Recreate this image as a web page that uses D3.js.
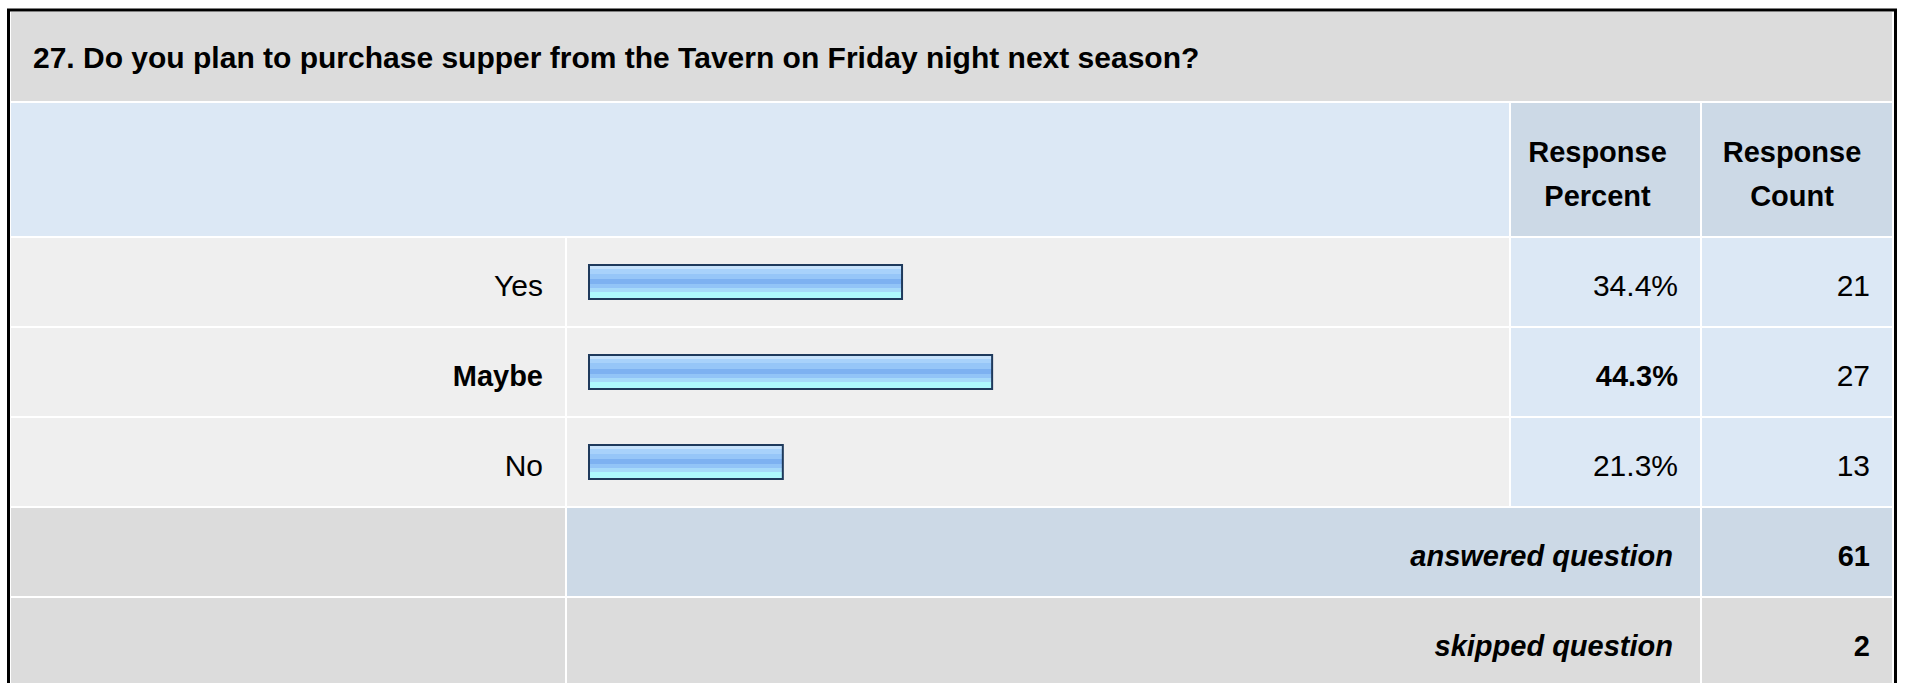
<!DOCTYPE html>
<html>
<head>
<meta charset="utf-8">
<script src="https://cdn.jsdelivr.net/npm/d3@7"></script>
<style>
  body { margin: 0; background: #fff; }
  text { font-family: "Liberation Sans", Arial, sans-serif; font-size: 29px; fill: #000; }
  text.reg { font-size: 30px; }
</style>
</head>
<body>
<div id="vis"></div>
<script>

var title = "27. Do you plan to purchase supper from the Tavern on Friday night next season?";
var answers = ["Yes", "Maybe", "No"];
var percents = [34.4, 44.3, 21.3];
var counts = [21, 27, 13];
var headerPercent = ["Response", "Percent"];
var headerCount = ["Response", "Count"];
var summaryLabels = ["answered question", "skipped question"];
var summaryValues = [61, 2];

var width = 1907, height = 683;

// column edges of the table (label | bar | percent | count)
var colEdges = [10, 566, 1510, 1701, 1893];

var svg = d3.select('#vis').append('svg')
  .attr('width', width)
  .attr('height', height);

var defs = svg.append('defs');
var grad = defs.append('linearGradient')
  .attr('id', 'barGrad')
  .attr('x1', 0).attr('y1', 0).attr('x2', 0).attr('y2', 1);

// banded gradient, like the old gif bars
var bands = [
  [0, '#c6e2fc'], [0.12, '#c6e2fc'], [0.12, '#a8d2fb'], [0.25, '#a8d2fb'],
  [0.25, '#96c6f8'], [0.40, '#96c6f8'], [0.40, '#7db1f1'], [0.55, '#7db1f1'],
  [0.55, '#92c4f7'], [0.68, '#92c4f7'], [0.68, '#a6dafa'], [0.80, '#a6dafa'],
  [0.80, '#aef8fd'], [1, '#aef8fd']
];
grad.selectAll('stop').data(bands).enter().append('stop')
  .attr('offset', function (d) { return d[0]; })
  .attr('stop-color', function (d) { return d[1]; });

// outer frame
svg.append('rect')
  .attr('x', 8.5).attr('y', 10)
  .attr('width', 1887).attr('height', 700)
  .attr('fill', '#fff')
  .attr('stroke', '#000')
  .attr('stroke-width', 3);

function cell(c0, c1, y0, y1, fill) {
  svg.append('rect')
    .attr('x', colEdges[c0] + 1)
    .attr('y', y0)
    .attr('width', colEdges[c1] - colEdges[c0] - 2)
    .attr('height', y1 - y0)
    .attr('fill', fill);
}

// title row
cell(0, 4, 12, 101, '#dcdcdc');
svg.append('text')
  .attr('x', 33).attr('y', 68)
  .style('font-weight', 'bold')
  .style('font-size', '30px')
  .text(title);

// header row
cell(0, 2, 103, 236, '#dce8f5');
cell(2, 3, 103, 236, '#ccd9e6');
cell(3, 4, 103, 236, '#ccd9e6');

function headerText(col, lines, shift) {
  var cx = (colEdges[col] + colEdges[col + 1]) / 2 + shift;
  svg.append('text')
    .attr('text-anchor', 'middle')
    .style('font-weight', 'bold')
    .selectAll('tspan').data(lines).enter().append('tspan')
    .attr('x', cx)
    .attr('y', function (d, i) { return 162 + i * 44; })
    .text(function (d) { return d; });
}
headerText(2, headerPercent, -8);
headerText(3, headerCount, -5);

// answer rows
var y = d3.scaleBand()
  .domain(answers)
  .range([237, 507]);

var x = d3.scaleLinear()
  .domain([0, 100])
  .range([589, 1499]);

var maxPct = d3.max(percents);

var rows = svg.selectAll('.row')
  .data(answers)
  .enter().append('g')
  .attr('class', 'row')
  .attr('transform', function (d) { return 'translate(0,' + y(d) + ')'; });

var rh = y.bandwidth();

rows.each(function (d, i) {
  var g = d3.select(this);
  var isMax = percents[i] === maxPct;
  [[0, 1, '#efefef'], [1, 2, '#efefef'], [2, 3, '#dce8f5'], [3, 4, '#dce8f5']].forEach(function (c) {
    g.append('rect')
      .attr('x', colEdges[c[0]] + 1)
      .attr('y', 1)
      .attr('width', colEdges[c[1]] - colEdges[c[0]] - 2)
      .attr('height', rh - 2)
      .attr('fill', c[2]);
  });

  g.append('text')
    .attr('class', isMax ? null : 'reg')
    .attr('x', colEdges[1] - 23)
    .attr('y', rh / 2 + 14)
    .attr('text-anchor', 'end')
    .style('font-weight', isMax ? 'bold' : 'normal')
    .text(d);

  g.append('rect')
    .attr('x', x(0))
    .attr('y', rh / 2 - 17)
    .attr('width', x(percents[i]) - x(0))
    .attr('height', 34)
    .attr('fill', 'url(#barGrad)')
    .attr('stroke', '#1f3a5c')
    .attr('stroke-width', 2);

  g.append('text')
    .attr('class', isMax ? null : 'reg')
    .attr('x', colEdges[3] - 23)
    .attr('y', rh / 2 + 14)
    .attr('text-anchor', 'end')
    .style('font-weight', isMax ? 'bold' : 'normal')
    .text(percents[i].toFixed(1) + '%');

  g.append('text')
    .attr('class', 'reg')
    .attr('x', colEdges[4] - 23)
    .attr('y', rh / 2 + 14)
    .attr('text-anchor', 'end')
    .text(counts[i]);
});

// summary rows
var ys = d3.scaleBand()
  .domain(summaryLabels)
  .range([507, 687]);

summaryLabels.forEach(function (lab, i) {
  var y0 = ys(lab) + 1, y1 = ys(lab) + ys.bandwidth() - 1;
  var mid = i === 0 ? '#ccd9e6' : '#dcdcdc';
  cell(0, 1, y0, y1, '#dcdcdc');
  cell(1, 3, y0, y1, mid);
  cell(3, 4, y0, y1, mid);

  svg.append('text')
    .attr('x', colEdges[3] - 28)
    .attr('y', ys(lab) + ys.bandwidth() / 2 + 14)
    .attr('text-anchor', 'end')
    .style('font-weight', 'bold')
    .style('font-style', 'italic')
    .text(lab);

  svg.append('text')
    .attr('x', colEdges[4] - 23)
    .attr('y', ys(lab) + ys.bandwidth() / 2 + 14)
    .attr('text-anchor', 'end')
    .style('font-weight', 'bold')
    .text(summaryValues[i]);
});

</script>
</body>
</html>
